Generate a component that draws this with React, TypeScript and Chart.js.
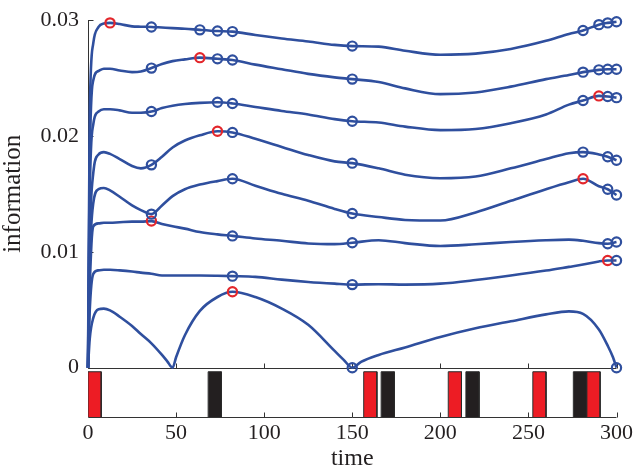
import { useEffect, useRef } from 'react';
import { Chart, registerables } from 'chart.js';

Chart.register(...registerables);

// time grid shared by curves 1-7
const times = [0, 1, 3, 6, 9, 12.5, 18, 25, 30, 36, 42, 48, 55, 63.5, 73.5, 82, 95, 110, 125, 140, 150, 165, 180, 200, 220, 240, 260, 273, 281, 290, 295, 300];
// information values in units of 0.001
const curve1 = [0, 22, 28.0, 29.4, 29.7, 29.75, 29.65, 29.45, 29.42, 29.4, 29.35, 29.3, 29.25, 29.15, 29.05, 29.0, 28.7, 28.4, 28.15, 27.85, 27.75, 27.7, 27.35, 27.0, 27.1, 27.5, 28.2, 28.8, 29.1, 29.6, 29.75, 29.85];
const curve2 = [0, 18, 24.8, 25.6, 25.8, 25.8, 25.65, 25.5, 25.55, 25.85, 26.2, 26.45, 26.6, 26.75, 26.65, 26.55, 26.15, 25.75, 25.35, 25.05, 24.9, 24.65, 24.1, 23.6, 23.75, 24.25, 24.9, 25.25, 25.5, 25.7, 25.75, 25.75];
const curve3 = [0, 15, 21, 22.1, 22.3, 22.3, 22.2, 22.0, 22.0, 22.1, 22.4, 22.6, 22.75, 22.85, 22.9, 22.8, 22.5, 22.15, 21.85, 21.45, 21.27, 21.15, 20.8, 20.5, 20.6, 21.1, 21.85, 22.7, 23.05, 23.45, 23.4, 23.3];
const curve4 = [0, 11, 16.8, 18.4, 18.6, 18.45, 18.0, 17.4, 17.2, 17.5, 18.2, 19.0, 19.6, 20.05, 20.4, 20.3, 19.75, 19.05, 18.35, 17.8, 17.65, 17.2, 16.65, 16.35, 16.5, 17.2, 18.0, 18.5, 18.6, 18.4, 18.2, 17.9];
const curve5 = [0, 9, 14.2, 15.4, 15.5, 15.3, 14.75, 14.0, 13.6, 13.25, 14.0, 14.8, 15.4, 15.8, 16.1, 16.3, 15.7, 15.0, 14.4, 13.7, 13.3, 13.0, 12.75, 12.7, 13.4, 14.4, 15.4, 16.0, 16.3, 15.65, 15.4, 14.9];
const curve6 = [0, 7, 12.2, 12.45, 12.5, 12.5, 12.55, 12.6, 12.6, 12.65, 12.4, 12.2, 12.0, 11.7, 11.5, 11.37, 11.15, 10.95, 10.72, 10.66, 10.78, 11.0, 10.75, 10.5, 10.65, 10.85, 11.0, 11.05, 10.95, 10.75, 10.7, 10.85];
const curve7 = [0, 5, 8.1, 8.4, 8.45, 8.45, 8.4, 8.3, 8.2, 8.1, 7.95, 7.95, 7.95, 7.95, 7.93, 7.9, 7.84, 7.6, 7.4, 7.25, 7.17, 7.2, 7.17, 7.25, 7.56, 7.95, 8.38, 8.7, 8.9, 9.17, 9.25, 9.25];
// curve 8 has its own time grid (cusps at 48, 150 and 300)
const times8 = [0, 1, 3, 6, 9, 12.5, 18, 25, 30, 36, 42, 45, 48, 50, 55, 63.5, 73.5, 82, 95, 110, 125, 140, 145, 150, 155, 165, 180, 200, 220, 240, 260, 273, 281, 290, 295, 298, 300];
const curve8 = [0, 2.5, 4.3, 5.05, 5.1, 4.95, 4.4, 3.6, 2.9, 2.1, 1.1, 0.55, 0, 0.9, 2.8, 4.9, 6.1, 6.55, 6.1, 5.1, 3.7, 1.45, 0.7, 0, 0.5, 1.1, 1.75, 2.65, 3.4, 4.0, 4.6, 4.86, 4.65, 3.3, 1.9, 0.9, 0];

// marker times per curve, and the red one of each
const markers1 = [12.5, 36, 63.5, 73.5, 82, 150, 281, 290, 295, 300];
const markers2 = [36, 63.5, 73.5, 82, 150, 281, 290, 295, 300];
const markers3 = [36, 73.5, 82, 150, 281, 290, 295, 300];
const markers4 = [36, 73.5, 82, 150, 281, 295, 300];
const markers5 = [36, 82, 150, 281, 295, 300];
const markers6 = [36, 82, 150, 295, 300];
const markers7 = [82, 150, 295, 300];
const markers8 = [82, 150, 300];
const redMarkers = [12.5, 63.5, 290, 73.5, 281, 36, 295, 82];

// stimulus bars (lower panel)
const redStimStarts = [0, 156.5, 204.5, 252.5, 283.2];
const blackStimStarts = [68.2, 166.4, 214.5, 275.5];
const stimWidth = 7.5;

const xTicks = [0, 50, 100, 150, 200, 250, 300];
const yTicks = [0, 0.01, 0.02, 0.03];
const yTickLabels = ['0', '0.01', '0.02', '0.03'];

const BLUE = '#2f4f9e';
const RED = '#e3262b';
const TEXT = '#231f20';
const FONT = 'Liberation Serif';

export default function App() {
  const ref = useRef<HTMLCanvasElement | null>(null);

  useEffect(() => {
    if (!ref.current) return;
    const curves = [curve1, curve2, curve3, curve4, curve5, curve6, curve7, curve8];
    const markers = [markers1, markers2, markers3, markers4, markers5, markers6, markers7, markers8];

    const curveSets = curves.map((vals, i) => {
      const ts = i === 7 ? times8 : times;
      const mk = markers[i];
      const red = redMarkers[i];
      return {
        type: 'line' as const,
        data: ts.map((t, j) => ({ x: t, y: vals[j] / 1000 })),
        xAxisID: 'x',
        yAxisID: 'y',
        borderColor: BLUE,
        borderWidth: 2.6,
        cubicInterpolationMode: 'monotone' as const,
        fill: false,
        clip: false as any,
        pointRadius: (c: any) => (c.raw && mk.includes(c.raw.x) ? 4.6 : 0),
        pointHoverRadius: (c: any) => (c.raw && mk.includes(c.raw.x) ? 4.6 : 0),
        pointBorderColor: (c: any) => (c.raw && c.raw.x === red ? RED : BLUE),
        pointBackgroundColor: 'rgba(0,0,0,0)',
        pointBorderWidth: 2.2,
        order: 0,
      };
    });

    const stimSet = (s: number, color: string) => ({
      type: 'line' as const,
      data: [
        { x: s, y: 0 },
        { x: s, y: 1 },
        { x: s + stimWidth, y: 1 },
        { x: s + stimWidth, y: 0 },
      ],
      xAxisID: 'x',
      yAxisID: 'y2',
      borderColor: '#2a2a2a',
      borderWidth: 1,
      backgroundColor: color,
      fill: 'origin',
      tension: 0,
      pointRadius: 0,
      order: 1,
    });

    const stimSets = [
      ...redStimStarts.map((s) => stimSet(s, '#ed1c24')),
      ...blackStimStarts.map((s) => stimSet(s, '#231f20')),
    ];

    const axesPlugin = {
      id: 'axesPlugin',
      beforeDatasetsDraw(chart: any) {
        const { ctx } = chart;
        const xs = chart.scales.x;
        const ys = chart.scales.y;
        const y2s = chart.scales.y2;
        const line = (a: number, b: number, c: number, d: number) => {
          ctx.beginPath();
          ctx.moveTo(a, b);
          ctx.lineTo(c, d);
          ctx.stroke();
        };
        ctx.save();
        ctx.strokeStyle = '#333333';
        ctx.lineWidth = 1;
        const x0 = Math.round(xs.getPixelForValue(0)) + 0.5;
        const x1 = xs.getPixelForValue(300);
        const yb = Math.round(ys.getPixelForValue(0)) + 0.5;
        const yt = ys.getPixelForValue(0.03);
        line(x0, yb, x0, yt);
        yTicks.forEach((v) => {
          const p = Math.round(ys.getPixelForValue(v)) + 0.5;
          line(x0, p, x0 + 5, p);
        });
        line(x0, yb, x1, yb);
        xTicks.forEach((v) => {
          const p = Math.round(xs.getPixelForValue(v)) + 0.5;
          line(p, yb, p, yb - 5);
        });
        const y2b = Math.round(y2s.getPixelForValue(0)) + 0.5;
        line(x0, y2b, x1, y2b);
        xTicks.forEach((v) => {
          const p = Math.round(xs.getPixelForValue(v)) + 0.5;
          line(p, y2b, p, y2b - 5);
        });
        ctx.restore();
      },
    };

    const chart = new Chart(ref.current, {
      type: 'line',
      data: { datasets: [...stimSets, ...curveSets] as any },
      options: {
        animation: false,
        responsive: false,
        events: [],
        layout: { padding: { left: 0, right: 19, top: 12, bottom: 0 } },
        plugins: { legend: { display: false }, tooltip: { enabled: false } },
        scales: {
          x: {
            type: 'linear',
            min: 0,
            max: 300,
            position: 'bottom',
            grid: { display: false, drawTicks: false },
            border: { display: false },
            afterBuildTicks: (s: any) => {
              s.ticks = xTicks.map((v) => ({ value: v }));
            },
            ticks: {
              autoSkip: false,
              maxRotation: 0,
              padding: 5,
              color: TEXT,
              font: { family: FONT, size: 22, lineHeight: 1 },
              callback: (v: any) => String(v),
            },
            title: {
              display: true,
              text: 'time',
              color: TEXT,
              font: { family: FONT, size: 24, lineHeight: 1 },
              padding: { top: 2, bottom: 0 },
            },
            afterFit: (s: any) => {
              s.height = 54;
            },
          },
          y2: {
            type: 'linear',
            min: 0,
            max: 1.09,
            position: 'left',
            stack: 'v',
            stackWeight: 50.3,
            weight: 0,
            grid: { display: false, drawTicks: false },
            border: { display: false },
            ticks: { display: false },
            afterFit: (s: any) => {
              s.width = 88;
            },
          },
          y: {
            type: 'linear',
            min: 0,
            max: 0.03,
            position: 'left',
            stack: 'v',
            stackWeight: 354.7,
            weight: 1,
            grid: { display: false, drawTicks: false },
            border: { display: false },
            afterBuildTicks: (s: any) => {
              s.ticks = yTicks.map((v) => ({ value: v }));
            },
            ticks: {
              padding: 9,
              color: TEXT,
              font: { family: FONT, size: 22, lineHeight: 1 },
              callback: (_v: any, i: number) => yTickLabels[i],
            },
            title: {
              display: true,
              text: 'information',
              color: TEXT,
              font: { family: FONT, size: 25, lineHeight: 1.1 },
              padding: 0,
            },
            afterFit: (s: any) => {
              s.width = 88;
            },
          },
        },
      } as any,
      plugins: [axesPlugin],
    });
    return () => chart.destroy();
  }, []);

  return (
    <div style={{ position: 'absolute', left: 0, top: 0, width: 638, height: 471, background: '#fff' }}>
      <canvas ref={ref} width={638} height={471} style={{ width: 638, height: 471, display: 'block' }} />
    </div>
  );
}
